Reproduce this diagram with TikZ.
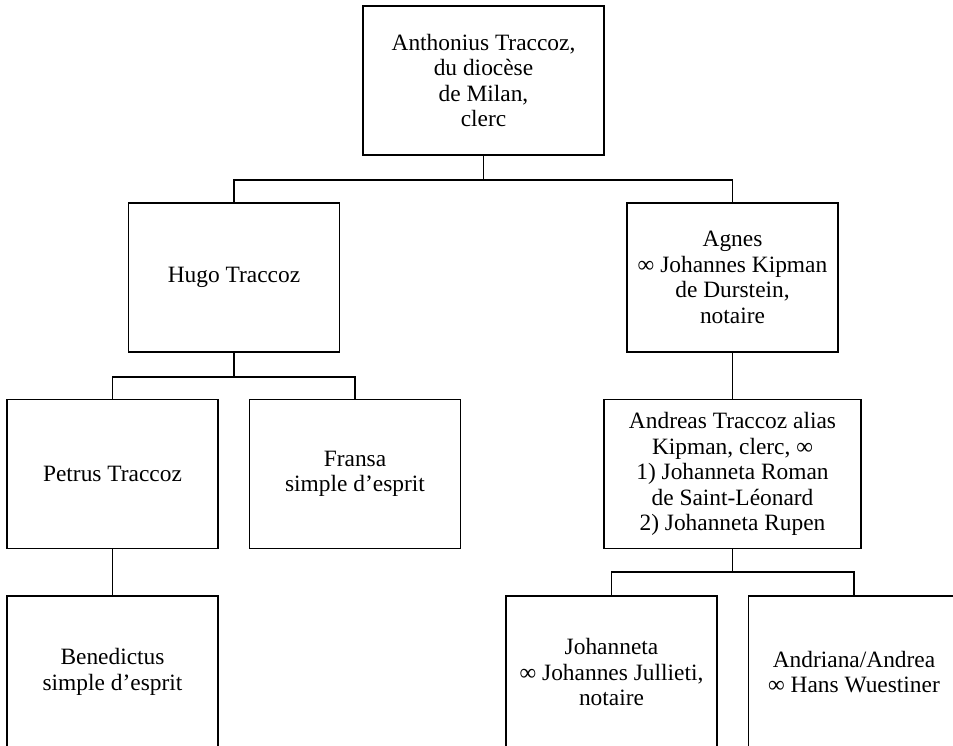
\documentclass[tikz,border=0pt]{standalone}
\usepackage{fontspec}
\setmainfont{Liberation Serif}
\usetikzlibrary{positioning}

\begin{document}
\begin{tikzpicture}[x=0.5pt,y=-0.5pt,line width=0.65pt,
  person/.style={draw,align=center,inner sep=0pt,minimum width=105.5pt,minimum height=74.5pt,
    font=\fontsize{11.7}{12.75}\selectfont},
  elbow/.style={to path={-| (\tikztotarget)}}]
\useasboundingbox (0,0) rectangle (953,745);
\node (top) at (483.5,80.5) [person,minimum width=120.5pt] {Anthonius Traccoz,\\du diocèse\\de Milan,\\clerc};
\node (hugo) at (234,277.5) [person] {Hugo Traccoz};
\node (agnes) at (732.5,277.5) [person] {Agnes\\∞ Johannes Kipman\\de Durstein,\\notaire};
\node (petrus) at (112.5,474) [person] {Petrus Traccoz};
\node (fransa) at (355,474) [person] {Fransa\\simple d’esprit};
\node (andreas) at (732.5,474) [person,minimum width=128.5pt] {Andreas Traccoz alias\\Kipman, clerc, ∞\\1) Johanneta Roman\\de Saint-Léonard\\2) Johanneta Rupen};
\node (benedictus) at (112.5,672) [person,minimum height=76pt] {Benedictus\\simple d’esprit};
\node (johanneta) at (611.5,672) [person,minimum height=76pt] {Johanneta\\∞ Johannes Jullieti,\\notaire};
\node (andriana) at (854,672) [person,minimum height=76pt] {Andriana/Andrea\\∞ Hans Wuestiner};
\coordinate (jtop) at (483.5,180);
\coordinate (jhugo) at (234,377);
\coordinate (jandreas) at (732.5,572);
\path
(top) edge (jtop)
(jtop) edge [elbow] (hugo)
(jtop) edge [elbow] (agnes)
(hugo) edge (jhugo)
(jhugo) edge [elbow] (petrus)
(jhugo) edge [elbow] (fransa)
(agnes) edge (andreas)
(petrus) edge (benedictus)
(andreas) edge (jandreas)
(jandreas) edge [elbow] (johanneta)
(jandreas) edge [elbow] (andriana);
\end{tikzpicture}
\end{document}
